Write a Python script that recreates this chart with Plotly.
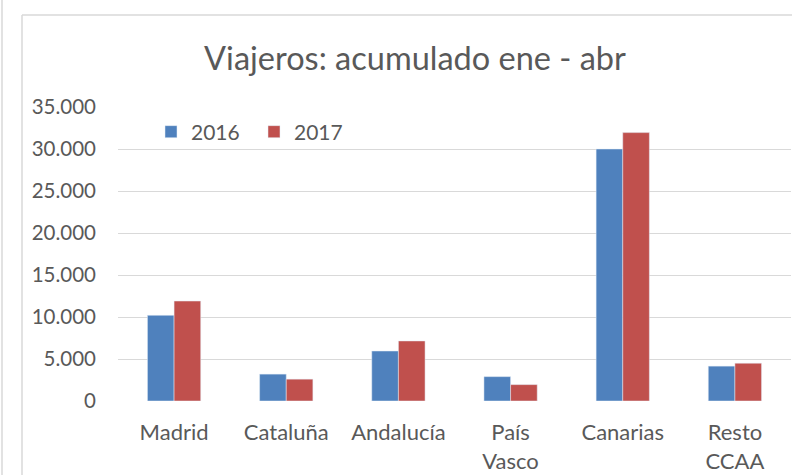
import plotly.graph_objects as go

categories = ["Madrid", "Cataluña", "Andalucía", "País<br>Vasco", "Canarias", "Resto<br>CCAA"]
values_2016 = [10200, 3200, 5950, 2900, 30000, 4150]
values_2017 = [11900, 2600, 7150, 1950, 31950, 4500]
y_ticks = [0, 5000, 10000, 15000, 20000, 25000, 30000, 35000]
y_tick_labels = ["0", "5.000", "10.000", "15.000", "20.000", "25.000", "30.000", "35.000"]

W, H = 792, 475
PL, PR, PT, PB = 118, 791, 107, 401

def px(x):
    return (x - PL) / (PR - PL)

def py(y):
    return (PB - y) / (PB - PT)

FONT = "Lato"
TXT = "#595959"

fig = go.Figure()
fig.add_trace(go.Bar(name="2016", x=categories, y=values_2016, marker_color="#4F81BD"))
fig.add_trace(go.Bar(name="2017", x=categories, y=values_2017, marker_color="#C0504D"))

fig.update_layout(
    width=W, height=H,
    margin=dict(l=PL, r=W - PR, t=PT, b=H - PB, pad=0, autoexpand=False),
    paper_bgcolor="white", plot_bgcolor="white",
    barmode="group", bargap=0.525, bargroupgap=0,
    font=dict(family=FONT, color=TXT, size=20),
    title=dict(text="Viajeros: acumulado ene - abr", x=415 / W, xanchor="center",
               y=1 - 59 / H, yanchor="middle", font=dict(size=32.5, color=TXT, family=FONT)),
    legend=dict(orientation="h", x=px(151), y=py(132), xanchor="left", yanchor="middle",
                font=dict(size=21, color=TXT), bgcolor="rgba(0,0,0,0)",
                entrywidth=58, entrywidthmode="pixels"),
    xaxis=dict(showgrid=False, showline=False, zeroline=False, ticks="", automargin=False,
               tickfont=dict(size=22, color=TXT), ticklabelstandoff=16),
    yaxis=dict(range=[0, 35000], tickvals=y_ticks, ticktext=y_tick_labels, automargin=False,
               showgrid=True, gridcolor="#D9D9D9", gridwidth=1.3, zeroline=False,
               showline=False, ticks="", tickfont=dict(size=20.5, color=TXT),
               ticklabelstandoff=21),
    shapes=[
        dict(type="line", xref="paper", yref="paper", x0=px(22), x1=px(800), y0=py(15), y1=py(15),
             line=dict(color="#D9D9D9", width=1.5)),
        dict(type="line", xref="paper", yref="paper", x0=px(22), x1=px(22), y0=py(15), y1=py(480),
             line=dict(color="#D9D9D9", width=1.5)),
        dict(type="line", xref="paper", yref="paper", x0=px(2), x1=px(2), y0=py(-5), y1=py(480),
             line=dict(color="#D9D9D9", width=1.5)),
    ],
)

fig.write_html("out.html", config={"displayModeBar": False},
               post_script="document.body.style.margin='0';document.body.style.overflow='hidden';")
